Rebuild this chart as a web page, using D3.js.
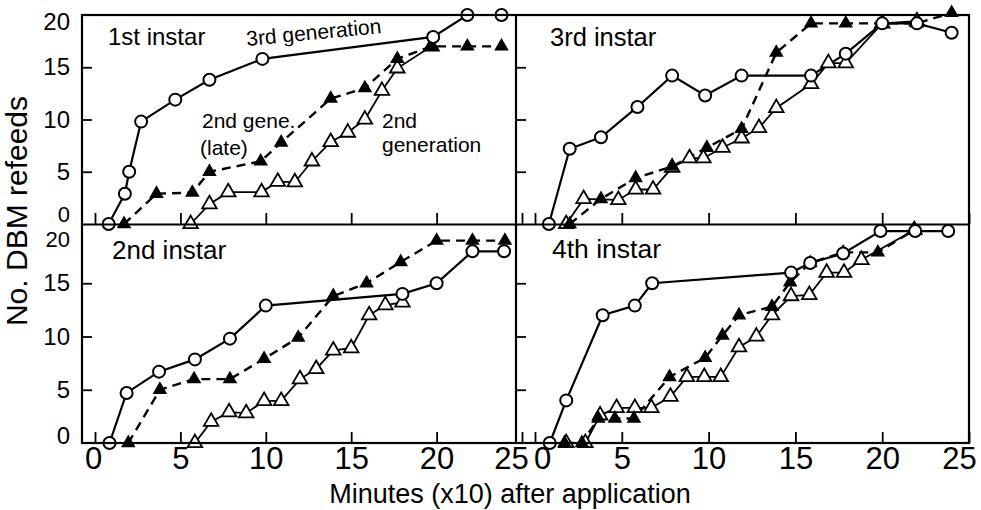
<!DOCTYPE html>
<html>
<head>
<meta charset="utf-8">
<script src="https://cdn.jsdelivr.net/npm/d3@7"></script>
<style>
  body { margin: 0; background: #fff; }
  svg text { fill: #000; }
  .title { font-family: "Liberation Sans", Arial, sans-serif; }
  .tick text { font-family: "Liberation Sans Narrow", "Arial Narrow", sans-serif; }
</style>
</head>
<body>
<div id="chart"></div>
<script>
var svgWidth = 981;
var svgHeight = 510;

// tick values
var xTicks = [0, 5, 10, 15, 20, 25];
var yTicks = [0, 5, 10, 15, 20];

// panel titles
var instars = ["1st instar", "3rd instar", "2nd instar", "4th instar"];

// [minutes x10, no. refeeds]
// 1st instar
var gen3_1st = [[0.8,0],[1.75,2.9],[2,5],[2.7,9.8],[4.7,11.9],[6.7,13.8],[9.8,15.8],[19.8,17.9],[21.8,20],[23.8,20]];
var gen2late_1st = [[1.7,0],[3.6,2.9],[5.7,3],[6.7,5],[9.7,6],[10.9,7.8],[13.8,12],[15.8,13],[17.7,15.8],[19.7,17],[21.8,17],[23.8,17]];
var gen2_1st = [[5.6,0],[6.7,1.9],[7.8,3.05],[9.75,3.05],[10.7,4.05],[11.7,4],[12.7,6],[13.8,7.85],[14.8,8.75],[15.8,10],[16.8,12.75],[17.7,14.9],[19.7,17]];
// 3rd instar
var gen3_3rd = [[0.8,0],[2,7.2],[3.8,8.3],[5.9,11.2],[7.9,14.2],[9.8,12.3],[11.9,14.2],[15.9,14.2],[17.9,16.3],[20,19.2],[22,19.2],[24,18.3]];
var gen2late_3rd = [[2,0],[3.8,2.4],[5.8,4.4],[7.9,5.5],[9.9,7.3],[11.9,9.1],[13.9,16.4],[15.9,19.2],[17.9,19.2],[20,19.2],[22,19.2],[24,20.2]];
var gen2_3rd = [[1.8,0],[2.8,2.4],[4.8,2.3],[5.8,3.3],[6.8,3.3],[7.9,5.4],[8.9,6.3],[9.7,6.3],[10.8,7.3],[11.9,8.2],[12.9,9.2],[13.9,11.1],[15.9,13.4],[16.9,15.4],[17.9,15.4],[20,19.2],[22,19.4]];
// 2nd instar
var gen3_2nd = [[0.85,0],[1.85,4.7],[3.75,6.7],[5.85,7.85],[7.9,9.8],[10,12.9],[18,14],[20,15],[22.1,18],[23.95,18]];
var gen2late_2nd = [[1.95,0],[3.8,5],[5.8,6],[7.9,6],[9.9,7.9],[11.9,9.9],[13.95,13.8],[15.9,15],[17.9,17],[20,19],[22.1,19],[24,19]];
var gen2_2nd = [[5.85,0],[6.8,2],[7.85,2.9],[8.85,2.8],[9.9,3.95],[10.9,3.95],[12,6],[12.95,6.95],[13.95,8.7],[15,8.9],[16.05,12],[17,12.95],[18,13.2]];
// 4th instar
var gen3_4th = [[0.85,0],[1.8,4],[3.9,12],[5.75,12.9],[6.75,15],[14.75,16],[15.85,16.9],[17.75,17.8],[19.9,19.9],[21.9,19.9],[23.8,19.9]];
var gen2late_4th = [[1.7,0],[2.7,0],[3.65,2.3],[4.6,2.3],[5.7,2.3],[7.75,6.2],[9.8,8],[10.8,10.1],[11.75,12],[13.65,12.8],[14.7,15.1],[15.85,16.9],[17.75,17.9],[19.75,17.9],[21.85,20]];
var gen2_4th = [[1.8,0],[2.9,0],[3.75,2.6],[4.7,3.3],[5.75,3.3],[6.7,3.3],[7.8,4.35],[8.75,6.2],[9.75,6.2],[10.7,6.2],[11.75,9],[12.75,10],[13.65,12],[14.75,13.8],[15.8,13.9],[16.8,16],[17.8,16],[18.8,17.2],[21.85,20]];

var frame = { left: 82, right: 969, top: 15, bottom: 443, midX: 516, midY: 224.5 };

var svg = d3.select("#chart")
  .append("svg")
  .attr("width", svgWidth)
  .attr("height", svgHeight);

// x scales for the two columns, y scales for the two rows
var xScales = [
  d3.scaleLinear().domain([0, 25]).range([95, 522]),
  d3.scaleLinear().domain([0, 25]).range([535, 969])
];
var yScales = [
  d3.scaleLinear().domain([0, 20]).range([224, 15]),
  d3.scaleLinear().domain([0, 20]).range([443, 230])
];

var panels = [
  { title: instars[0], col: 0, row: 0, gen3: gen3_1st, late: gen2late_1st, gen2: gen2_1st, tx: 108, ty: 45, fs: 24 },
  { title: instars[1], col: 1, row: 0, gen3: gen3_3rd, late: gen2late_3rd, gen2: gen2_3rd, tx: 550, ty: 46, fs: 25.5 },
  { title: instars[2], col: 0, row: 1, gen3: gen3_2nd, late: gen2late_2nd, gen2: gen2_2nd, tx: 112, ty: 259, fs: 26 },
  { title: instars[3], col: 1, row: 1, gen3: gen3_4th, late: gen2late_4th, gen2: gen2_4th, tx: 552, ty: 258, fs: 26.5 }
];

var triangle = d3.symbol().type(d3.symbolTriangle).size(92);

panels.forEach(function(p) {
  var x = xScales[p.col];
  var y = yScales[p.row];
  var baseY = p.row === 0 ? 224 : 443;
  var leftX = p.col === 0 ? frame.left : frame.midX;

  // x axis ticks (inward), labels only on bottom row
  var xAxis = d3.axisBottom(x)
    .tickValues(xTicks)
    .tickSizeInner(-11)
    .tickSizeOuter(0)
    .tickPadding(4);
  if (p.row === 0) xAxis.tickFormat("");
  var gx = svg.append("g")
    .attr("transform", `translate(0, ${baseY})`)
    .call(xAxis);
  gx.select(".domain").remove();
  gx.selectAll("line").attr("stroke", "#000").attr("stroke-width", 1.8);
  gx.selectAll("text").style("font-size", "31px");
  if (p.row === 1) {
    gx.selectAll("text").filter(d => d === 25).attr("dx", p.col === 0 ? -11 : -10);
    gx.selectAll("text").filter(d => d === 0).attr("dx", p.col === 1 ? 7 : -2);
  }

  // y axis ticks (inward), labels only on left column
  var yAxis = d3.axisLeft(y)
    .tickValues(yTicks.filter(d => d > 0 && d < 20))
    .tickSizeInner(-10)
    .tickSizeOuter(0)
    .tickPadding(12);
  if (p.col === 1) yAxis.tickFormat("");
  var gy = svg.append("g")
    .attr("transform", `translate(${leftX}, 0)`)
    .call(yAxis);
  gy.select(".domain").remove();
  gy.selectAll("line").attr("stroke", "#000").attr("stroke-width", 1.8);
  gy.selectAll("text").style("font-size", "24px");
  if (p.col === 0) {
    // 0 and 20 labels sit on the frame, kept apart where the rows meet
    gy.selectAll(null)
      .data([0, 20])
      .enter()
      .append("text")
      .attr("x", -12)
      .attr("y", d => y(d))
      .attr("dy", d => d === 20 ? (p.row === 0 ? "0.63em" : "0.75em") : (p.row === 0 ? "-0.1em" : "0.04em"))
      .attr("text-anchor", "end")
      .style("font-family", '"Liberation Sans Narrow", "Arial Narrow", sans-serif')
      .style("font-size", d => (p.row === 0 && d === 0) || (p.row === 1 && d === 20) ? "22px" : "24px")
      .text(d => d);
  }

  var line = d3.line().x(d => x(d[0])).y(d => y(d[1]));

  // 2nd generation: open triangles, thin solid
  svg.append("path")
    .datum(p.gen2)
    .attr("d", line)
    .attr("fill", "none")
    .attr("stroke", "#000")
    .attr("stroke-width", 1.8);

  // 2nd generation (late): filled triangles, dashed
  svg.append("path")
    .datum(p.late)
    .attr("d", line)
    .attr("fill", "none")
    .attr("stroke", "#000")
    .attr("stroke-width", 2.4)
    .attr("stroke-dasharray", "9,6");

  // 3rd generation: open circles, solid
  svg.append("path")
    .datum(p.gen3)
    .attr("d", line)
    .attr("fill", "none")
    .attr("stroke", "#000")
    .attr("stroke-width", 2.2);

  svg.selectAll(null)
    .data(p.gen2)
    .enter()
    .append("path")
    .attr("d", triangle)
    .attr("transform", d => `translate(${x(d[0])}, ${y(d[1])})`)
    .attr("fill", "#fff")
    .attr("stroke", "#000")
    .attr("stroke-width", 1.8);

  svg.selectAll(null)
    .data(p.late)
    .enter()
    .append("path")
    .attr("d", triangle)
    .attr("transform", d => `translate(${x(d[0])}, ${y(d[1])})`)
    .attr("fill", "#000");

  svg.selectAll(null)
    .data(p.gen3)
    .enter()
    .append("circle")
    .attr("cx", d => x(d[0]))
    .attr("cy", d => y(d[1]))
    .attr("r", 6)
    .attr("fill", "#fff")
    .attr("stroke", "#000")
    .attr("stroke-width", 2);

  svg.append("text")
    .attr("class", "title")
    .attr("x", p.tx)
    .attr("y", p.ty)
    .style("font-size", p.fs + "px")
    .text(p.title);
});

// frame and dividers
svg.append("rect")
  .attr("x", frame.left)
  .attr("y", frame.top)
  .attr("width", frame.right - frame.left)
  .attr("height", frame.bottom - frame.top)
  .attr("fill", "none")
  .attr("stroke", "#000")
  .attr("stroke-width", 2.2);
svg.append("line")
  .attr("x1", frame.midX).attr("x2", frame.midX)
  .attr("y1", frame.top).attr("y2", frame.bottom)
  .attr("stroke", "#000").attr("stroke-width", 2.2);
svg.append("line")
  .attr("x1", frame.left).attr("x2", frame.right)
  .attr("y1", frame.midY).attr("y2", frame.midY)
  .attr("stroke", "#000").attr("stroke-width", 2.2);

// series labels in the 1st instar panel
var seriesLabels = [
  { text: "3rd generation", x: 247, y: 46, rot: -5.5 },
  { text: "2nd gene.", x: 202, y: 128, rot: 0 },
  { text: "(late)", x: 200, y: 155, rot: 0 },
  { text: "2nd", x: 382, y: 128, rot: 0 },
  { text: "generation", x: 382, y: 152, rot: 0 }
];
svg.selectAll(null)
  .data(seriesLabels)
  .enter()
  .append("text")
  .attr("class", "title")
  .attr("transform", d => `translate(${d.x}, ${d.y}) rotate(${d.rot})`)
  .style("font-size", "21px")
  .text(d => d.text);

// axis titles
svg.append("text")
  .attr("class", "title")
  .attr("x", 510)
  .attr("y", 503)
  .attr("text-anchor", "middle")
  .style("font-size", "27px")
  .text("Minutes (x10) after application");

svg.append("text")
  .attr("class", "title")
  .attr("transform", "translate(27, 211) rotate(-90)")
  .attr("text-anchor", "middle")
  .style("font-size", "30px")
  .text("No. DBM refeeds");
</script>
</body>
</html>
